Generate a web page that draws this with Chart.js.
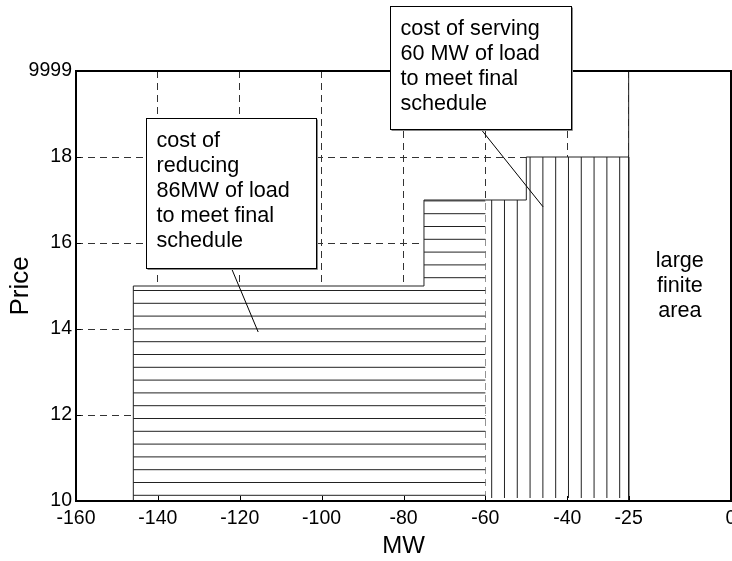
<!DOCTYPE html>
<html>
<head>
<meta charset="utf-8">
<script src="https://cdn.jsdelivr.net/npm/chart.js@4/dist/chart.umd.min.js"></script>
<style>
  html, body { margin: 0; padding: 0; background: #fff; overflow: hidden; }
  canvas { display: block; }
</style>
</head>
<body>
<canvas id="grafico" width="732" height="561"></canvas>
<script>
// price steps (MW, price)
const reduceMW = [-146, -146, -75, -75, -60];
const reducePrice = [10, 15, 15, 17, 17];
const serveMW = [-60, -50, -50, -25, -25];
const servePrice = [17, 17, 18, 18, 10];
const largeMW = [-25, -25, 0];
const largePrice = [10, 20, 20];

// axis ticks (top price tick is shown as 9999)
const mwTicks = [-160, -140, -120, -100, -80, -60, -40, -25, 0];
const priceTicks = [10, 12, 14, 16, 18, 20];
const priceLabels = ['10', '12', '14', '16', '18', '9999'];

// texts
const reduceNote = ['cost of', 'reducing', '86MW of load', 'to meet final', 'schedule'];
const serveNote = ['cost of serving', '60 MW of load', 'to meet final', 'schedule'];
const largeNote = ['large', 'finite', 'area'];

const FONT = '"Liberation Sans", Arial, sans-serif';
const NOTE_FONT = '21.6px ' + FONT;

// where the note boxes sit, in axis units
const noteBoxes = [
  { lines: reduceNote, x1: -143, y1: 18.9, x2: -101.4, y2: 15.42, from: [-122.1, 15.43], to: [-115.5, 13.93] },
  { lines: serveNote, x1: -83.3, y1: 21.52, x2: -39.2, y2: 18.65, from: [-61.1, 18.65], to: [-45.9, 16.84] }
];

const toPoints = (xs, ys) => xs.map((x, i) => ({ x: x, y: ys[i] }));

function regionPath(ctx, meta, base) {
  const pts = meta.data;
  ctx.beginPath();
  ctx.moveTo(pts[0].x, base);
  pts.forEach(p => ctx.lineTo(p.x, p.y));
  ctx.lineTo(pts[pts.length - 1].x, base);
  ctx.closePath();
}

const desenho = {
  id: 'desenho',
  afterDatasetsDraw(chart) {
    const ctx = chart.ctx;
    const a = chart.chartArea;
    const sx = chart.scales.x, sy = chart.scales.y;
    const base = sy.getPixelForValue(10);

    ctx.save();
    ctx.strokeStyle = '#222';
    ctx.lineWidth = 1;

    // horizontal hatching
    ctx.save();
    regionPath(ctx, chart.getDatasetMeta(0), base);
    ctx.clip();
    for (let y = base - 5.7; y > a.top; y -= 12.8) {
      ctx.beginPath();
      ctx.moveTo(a.left, y);
      ctx.lineTo(a.right, y);
      ctx.stroke();
    }
    ctx.restore();

    // vertical hatching
    ctx.save();
    regionPath(ctx, chart.getDatasetMeta(1), base);
    ctx.clip();
    const x0 = sx.getPixelForValue(serveMW[0]);
    for (let x = x0 + 6.3; x < a.right; x += 12.8) {
      ctx.beginPath();
      ctx.moveTo(x, base - 3);
      ctx.lineTo(x, a.top);
      ctx.stroke();
    }
    ctx.restore();

    // frame
    ctx.strokeStyle = '#000';
    ctx.lineWidth = 2;
    ctx.strokeRect(a.left, a.top, a.right - a.left, a.bottom - a.top);

    // inward ticks
    ctx.lineWidth = 1;
    mwTicks.slice(1, -1).forEach(v => {
      const x = Math.round(sx.getPixelForValue(v)) + 0.5;
      ctx.beginPath();
      ctx.moveTo(x, a.bottom);
      ctx.lineTo(x, a.bottom - 5);
      ctx.stroke();
    });
    priceTicks.slice(1, -1).forEach(v => {
      const y = Math.round(sy.getPixelForValue(v)) + 0.5;
      ctx.beginPath();
      ctx.moveTo(a.left, y);
      ctx.lineTo(a.left + 5, y);
      ctx.stroke();
    });

    // large finite area text
    ctx.fillStyle = '#000';
    ctx.font = NOTE_FONT;
    ctx.textAlign = 'center';
    ctx.textBaseline = 'middle';
    const cx = sx.getPixelForValue(-12.5);
    const cy = sy.getPixelForValue(15);
    largeNote.forEach((t, i) => ctx.fillText(t, cx, cy + (i - 1) * 25));
    ctx.restore();
  },
  afterDraw(chart) {
    const ctx = chart.ctx;
    const sx = chart.scales.x, sy = chart.scales.y;
    ctx.save();
    noteBoxes.forEach(n => {
      const l = Math.round(sx.getPixelForValue(n.x1)) + 0.5;
      const t = Math.round(sy.getPixelForValue(n.y1)) + 0.5;
      const r = Math.round(sx.getPixelForValue(n.x2)) + 0.5;
      const b = Math.round(sy.getPixelForValue(n.y2)) + 0.5;

      ctx.strokeStyle = '#000';
      ctx.lineWidth = 1;
      ctx.beginPath();
      ctx.moveTo(sx.getPixelForValue(n.from[0]), sy.getPixelForValue(n.from[1]));
      ctx.lineTo(sx.getPixelForValue(n.to[0]), sy.getPixelForValue(n.to[1]));
      ctx.stroke();

      ctx.fillStyle = '#fff';
      ctx.fillRect(l, t, r - l, b - t);
      ctx.strokeStyle = '#888';
      ctx.beginPath();
      ctx.moveTo(r + 1, t + 1);
      ctx.lineTo(r + 1, b + 1);
      ctx.lineTo(l + 1, b + 1);
      ctx.stroke();
      ctx.strokeStyle = '#000';
      ctx.strokeRect(l, t, r - l, b - t);

      ctx.fillStyle = '#000';
      ctx.font = NOTE_FONT;
      ctx.textAlign = 'left';
      ctx.textBaseline = 'middle';
      n.lines.forEach((s, i) => ctx.fillText(s, l + 10, t + 23 + i * 25));
    });
    ctx.restore();
  }
};

const regiao = (xs, ys) => ({
  data: toPoints(xs, ys),
  showLine: true,
  borderColor: '#222',
  borderWidth: 1,
  backgroundColor: '#fff',
  fill: { value: 10 },
  pointRadius: 0,
  tension: 0
});

const ctx = document.getElementById('grafico').getContext('2d');
new Chart(ctx, {
  type: 'scatter',
  data: {
    datasets: [
      regiao(reduceMW, reducePrice),
      regiao(serveMW, servePrice),
      regiao(largeMW, largePrice)
    ]
  },
  options: {
    responsive: false,
    animation: false,
    layout: { padding: { top: 71, right: 1, left: 0, bottom: 0 } },
    plugins: { legend: { display: false }, tooltip: { enabled: false } },
    scales: {
      x: {
        type: 'linear',
        min: -160,
        max: 0,
        afterBuildTicks: s => { s.ticks = mwTicks.map(v => ({ value: v })); },
        afterFit: s => { s.height = 60; s.paddingLeft = 0; s.paddingRight = 0; },
        ticks: {
          color: '#000',
          font: { family: FONT, size: 19.5 },
          padding: 6,
          maxRotation: 0,
          autoSkip: false,
          callback: v => String(v)
        },
        grid: { color: '#333', lineWidth: 1, drawTicks: false },
        border: { display: false, dash: [7, 5] },
        title: {
          display: true,
          text: 'MW',
          color: '#000',
          font: { family: FONT, size: 24 },
          padding: { top: 0, bottom: 0 }
        }
      },
      y: {
        type: 'linear',
        min: 10,
        max: 20,
        afterBuildTicks: s => { s.ticks = priceTicks.map(v => ({ value: v })); },
        afterFit: s => { s.width = 76; s.paddingTop = 0; s.paddingBottom = 0; },
        ticks: {
          color: '#000',
          font: { family: FONT, size: 19.5 },
          padding: 4,
          autoSkip: false,
          callback: (v, i) => priceLabels[i]
        },
        grid: { color: '#333', lineWidth: 1, drawTicks: false },
        border: { display: false, dash: [7, 5] },
        title: {
          display: true,
          text: 'Price',
          color: '#000',
          font: { family: FONT, size: 26 },
          padding: { top: 5, bottom: 0 }
        }
      }
    }
  },
  plugins: [desenho]
});
</script>
</body>
</html>
